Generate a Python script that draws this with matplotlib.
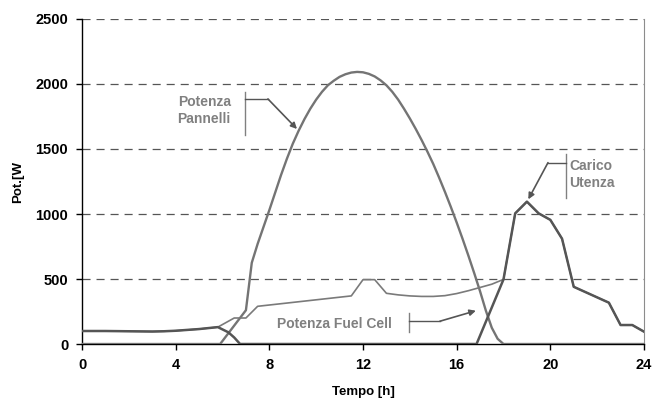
import matplotlib
matplotlib.use("Agg")
import matplotlib.pyplot as plt

plt.rcParams['font.family'] = ['Liberation Sans', 'DejaVu Sans']
plt.rcParams['font.weight'] = 'bold'
plt.rcParams['lines.scale_dashes'] = False

# Potenza Pannelli (fotovoltaico)
ore_pv = [0, 5.9, 7.0, 7.25, 7.5, 7.75, 8, 8.25, 8.5, 8.75, 9, 9.25, 9.5, 9.75, 10,
          10.25, 10.5, 10.75, 11, 11.25, 11.5, 11.75, 12, 12.25, 12.5, 12.75, 13,
          13.25, 13.5, 13.75, 14, 14.25, 14.5, 14.75, 15, 15.25, 15.5, 15.75, 16,
          16.25, 16.5, 16.75, 17, 17.25, 17.5, 17.75, 18, 24]
pot_pv = [0, 0, 260, 625, 770, 900, 1030, 1165, 1300, 1425, 1540, 1640, 1730, 1810,
          1880, 1940, 1990, 2025, 2055, 2075, 2088, 2093, 2090, 2078, 2058, 2028, 1990,
          1940, 1880, 1810, 1735, 1655, 1570, 1480, 1385, 1280, 1170, 1055, 935, 810,
          680, 545, 405, 255, 125, 40, 0, 0]

# Carico Utenza
ore_carico = [0, 1, 2, 3, 3.5, 4, 5, 5.8, 6.5, 7, 7.5, 11.5, 12, 12.5, 13, 13.5, 14,
              14.5, 15, 15.5, 16, 16.5, 17, 17.5, 18, 18.5, 19, 19.5, 20, 20.5, 21,
              22.5, 23, 23.5, 24]
pot_carico = [100, 100, 98, 96, 98, 102, 115, 130, 200, 200, 290, 370, 495, 495, 390,
              378, 370, 366, 366, 372, 388, 410, 435, 460, 497, 1005, 1095, 1005, 955,
              810, 440, 318, 146, 146, 95]

# Potenza Fuel Cell
ore_fc = [0, 1, 2, 3, 3.5, 4, 5, 5.8, 6.25, 6.5, 6.75, 16.85, 18, 18.5, 19, 19.5, 20,
          20.5, 21, 22.5, 23, 23.5, 24]
pot_fc = [100, 100, 98, 96, 98, 102, 115, 130, 90, 50, 0, 0, 497, 1005, 1095, 1005,
          955, 810, 440, 318, 146, 146, 95]

fig = plt.figure(figsize=(6.53, 4.05), dpi=100)
ax = fig.add_axes([0.1256, 0.1506, 0.8606, 0.8025])

for y in [500, 1000, 1500, 2000, 2500]:
    ax.axhline(y, color='#555555', lw=0.9, dashes=(5.8, 4.3), zorder=1)

ax.plot(ore_pv, pot_pv, color='#747474', lw=1.7, zorder=3)
ax.plot(ore_carico, pot_carico, color='#7a7a7a', lw=1.2, zorder=4)
ax.plot(ore_fc, pot_fc, color='#555555', lw=1.8, zorder=5)

ax.set_xlim(0, 24)
ax.set_ylim(0, 2500)
ax.set_xticks(range(0, 25, 4))
ax.set_yticks(range(0, 2501, 500))
ax.tick_params(direction='out', length=4, width=1, labelsize=10.5, pad=6)
for lab in ax.get_xticklabels() + ax.get_yticklabels():
    lab.set_fontweight('bold')
ax.spines['top'].set_visible(False)
ax.spines['right'].set_color('#8c8c8c')
ax.spines['left'].set_linewidth(1)
ax.spines['bottom'].set_linewidth(1)

ax.set_xlabel('Tempo [h]', fontsize=9.5, fontweight='bold', labelpad=10)
ax.set_ylabel('Pot.[W', fontsize=9.5, fontweight='bold', labelpad=8)

grigio = '#808080'


def richiamo(testo, xt, yt, barra, gomito, punta, ha):
    ax.text(xt, yt, testo, color=grigio, fontsize=10, fontweight='bold',
            ha=ha, va='center', linespacing=1.25, zorder=6)
    ax.plot([barra[0], barra[0]], [barra[1], barra[2]], color=grigio, lw=1, zorder=6)
    ax.plot([barra[0], gomito[0]], [gomito[1], gomito[1]], color='#555555', lw=1, zorder=6)
    ax.annotate('', xy=punta, xytext=gomito,
                arrowprops=dict(arrowstyle='-|>', color='#555555', lw=1.2,
                                mutation_scale=9, shrinkA=0, shrinkB=0), zorder=6)


richiamo('Potenza\nPannelli', 6.35, 1795, (6.96, 1608, 1938), (7.94, 1885), (9.18, 1654), 'right')
richiamo('Carico\nUtenza', 20.8, 1305, (20.67, 1123, 1462), (19.9, 1395), (19.06, 1113), 'left')
richiamo('Potenza Fuel Cell', 13.25, 152, (13.97, 95, 235), (15.28, 175), (16.82, 256), 'right')

fig.savefig('out.png', dpi=100)
